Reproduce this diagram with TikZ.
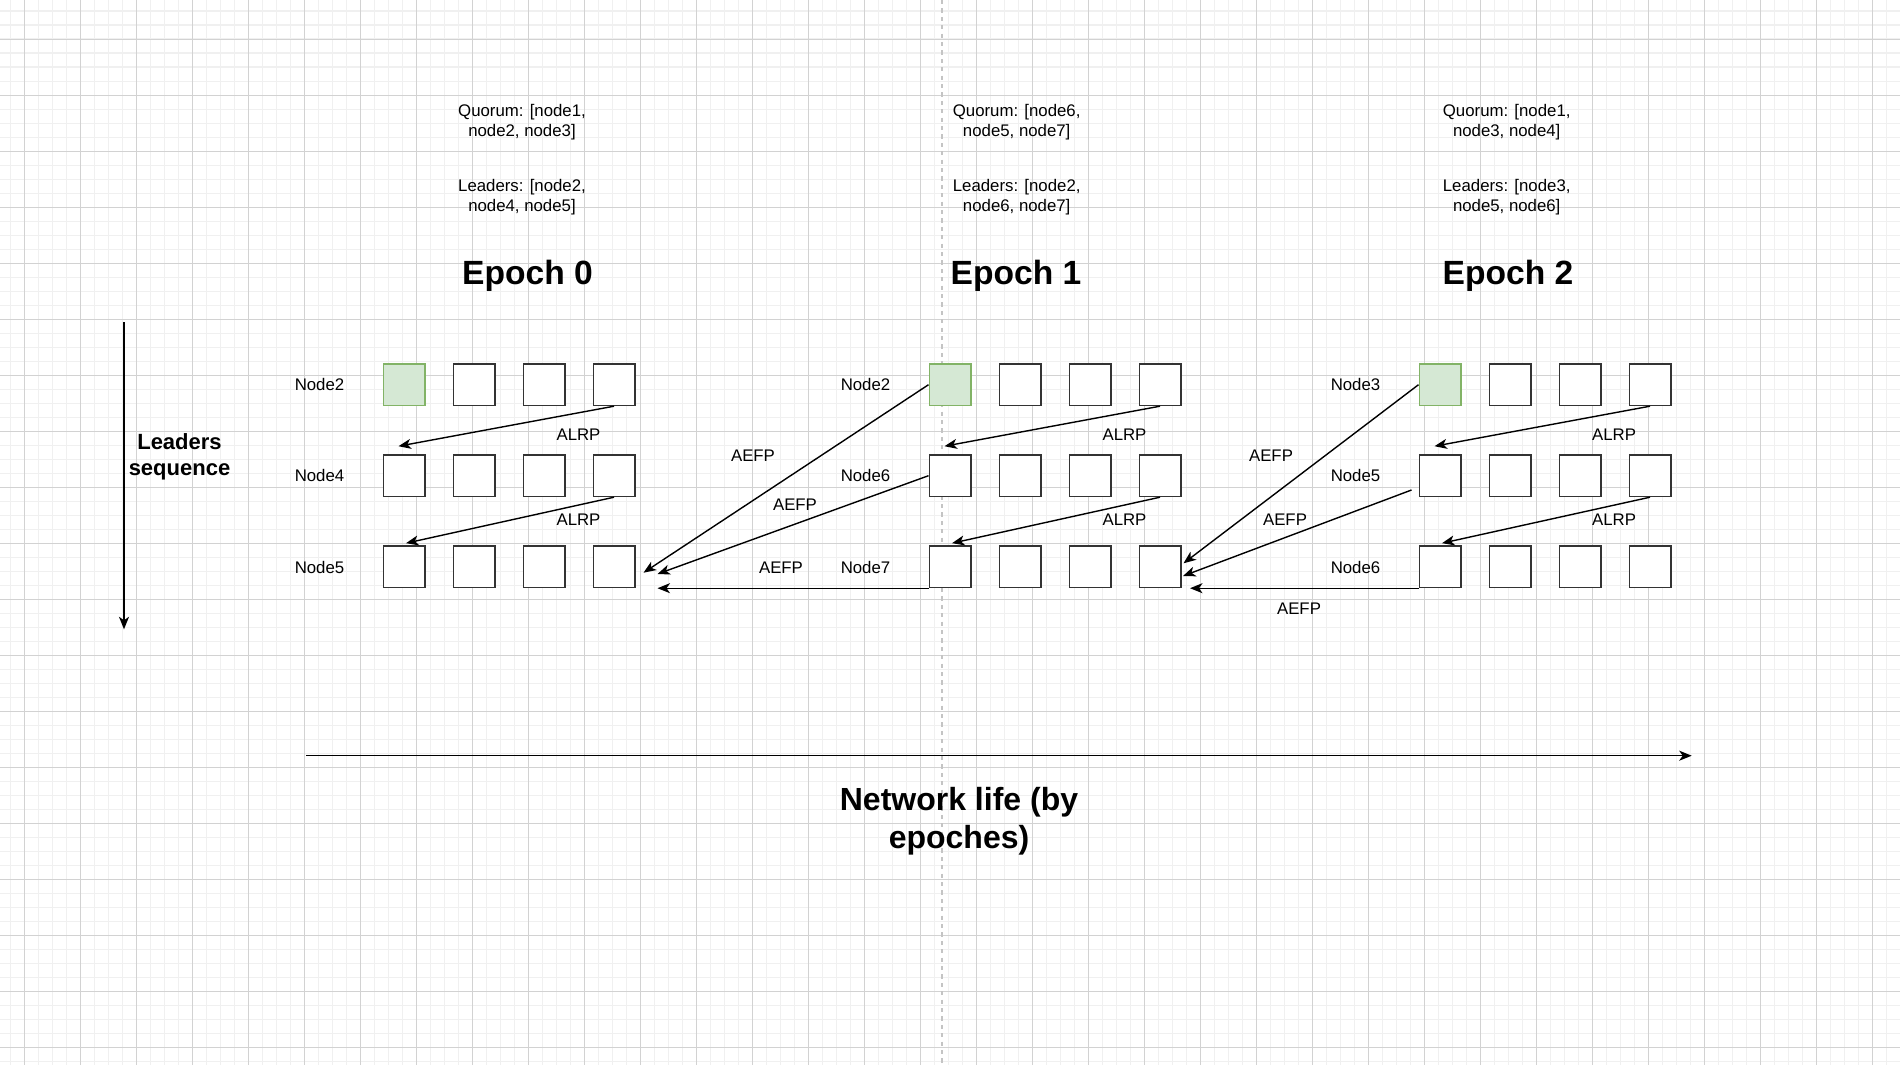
\documentclass[tikz,border=0pt]{standalone}
\usepackage{fontspec}
\setmainfont{Liberation Sans}
\usetikzlibrary{arrows.meta}
\definecolor{gridminor}{HTML}{F0F0F0}
\definecolor{gridmajor}{HTML}{D2D2D2}
\definecolor{boxline}{HTML}{333333}
\definecolor{greenfill}{HTML}{D5E8D4}
\definecolor{greenline}{HTML}{82B366}
\definecolor{dashgray}{HTML}{C4C4C4}
\newcommand{\twolines}[2]{\begin{tabular}[t]{@{}c@{}}#1\\ #2\end{tabular}}
\begin{document}
\begin{tikzpicture}[x=1pt,y=-1pt,
  cell/.style={draw=boxline,line width=1.5pt,fill=white,minimum size=41.5pt,inner sep=0pt},
  leadcell/.style={cell,draw=greenline,fill=greenfill},
  small/.style={font=\fontsize{16.8}{20.2}\selectfont,inner sep=0pt,anchor=base},
  heading/.style={font=\fontsize{33.6}{40}\selectfont\bfseries,inner sep=0pt,anchor=base},
  conn/.style={draw=black,line width=1.4pt,-{Stealth[length=12.5pt,width=10pt,inset=3.5pt]}},
]
\useasboundingbox (0,0) rectangle (1900,1065);
\fill[white] (0,0) rectangle (1900,1065);
% grid
\foreach \gx in {10.3,24.3,...,1900} \draw[gridminor,line width=1.6pt] (\gx,0) -- (\gx,1065);
\foreach \gy in {11.3,25.3,...,1065} \draw[gridminor,line width=1.6pt] (0,\gy) -- (1900,\gy);
\foreach \gx in {24.3,80.3,...,1900} \draw[gridmajor,line width=1pt] (\gx,0) -- (\gx,1065);
\foreach \gy in {39.3,95.3,...,1065} \draw[gridmajor,line width=1pt] (0,\gy) -- (1900,\gy);
% dashed separator
\draw[dashgray,line width=1.4pt,dash pattern=on 4.2pt off 4.2pt] (942,0) -- (942,1065);

% boxes
\foreach \e/\ex in {0/404,1/950,2/1440}{
  \node[leadcell] (b\e11) at (\ex,384.7) {};
  \foreach \c in {2,3,4} \node[cell] (b\e1\c) at ({\ex+70*(\c-1)},384.7) {};
  \foreach \r/\ry in {2/475.7,3/566.7}
    \foreach \c in {1,2,3,4} \node[cell] (b\e\r\c) at ({\ex+70*(\c-1)},\ry) {};
}

% row labels
\node[small] (l01) at (319.5,390.3) {Node2};
\node[small] (l02) at (319.5,481.7) {Node4};
\node[small] (l03) at (319.5,573) {Node5};
\node[small] (l11) at (865.5,390.3) {Node2};
\node[small] (l12) at (865.5,481.7) {Node6};
\node[small] (l13) at (865.5,573) {Node7};
\node[small] (l21) at (1355.5,390.3) {Node3};
\node[small] (l22) at (1355.5,481.7) {Node5};
\node[small] (l23) at (1355.5,573) {Node6};

% quorum / leaders text
\node[small] (q0) at (522,116) {\twolines{Quorum: [node1,}{node2, node3]}};
\node[small] (ld0) at (522,191.7) {\twolines{Leaders: [node2,}{node4, node5]}};
\node[small] (q1) at (1016.7,116) {\twolines{Quorum: [node6,}{node5, node7]}};
\node[small] (ld1) at (1016.7,191.7) {\twolines{Leaders: [node2,}{node6, node7]}};
\node[small] (q2) at (1506.7,116) {\twolines{Quorum: [node1,}{node3, node4]}};
\node[small] (ld2) at (1506.7,191.7) {\twolines{Leaders: [node3,}{node5, node6]}};

% headings
\node[heading] (h0) at (527.5,284) {Epoch 0};
\node[heading] (h1) at (1016,284) {Epoch 1};
\node[heading] (h2) at (1508,284) {Epoch 2};

% ALRP arrows
\foreach \e in {0,1,2}{
  \path[conn] (b\e14.south) -- ([xshift=-5.5pt,yshift=8pt]b\e21.north);
  \path[conn] (b\e24.south) -- ([xshift=2pt,yshift=2pt]b\e31.north);
}
\node[small] (a01) at (578.5,440.7) {ALRP};
\node[small] (a02) at (578.5,525) {ALRP};
\node[small] (a11) at (1124.5,440.7) {ALRP};
\node[small] (a12) at (1124.5,525) {ALRP};
\node[small] (a21) at (1614,440.7) {ALRP};
\node[small] (a22) at (1614,525) {ALRP};

% AEFP arrows epoch 1 -> epoch 0
\path[conn] (b111.west) -- ([xshift=8pt,yshift=-6pt]b034.east);
\path[conn] (b121.west) -- ([xshift=22pt,yshift=-7.3pt]b034.east);
\path[conn] (b131.south west) -- ([xshift=22pt]b034.south east);
% AEFP arrows epoch 2 -> epoch 1
\path[conn] (b211.west) -- ([xshift=2pt,yshift=3.4pt]b134.east);
\path[conn] ([xshift=-7pt,yshift=-14.3pt]b221.west) -- ([xshift=1.5pt,yshift=-9.3pt]b134.east);
\path[conn] (b231.south west) -- ([xshift=8.5pt]b134.south east);

\node[small] (f11) at (753,461.7) {AEFP};
\node[small] (f12) at (795,510) {AEFP};
\node[small] (f13) at (781,573.3) {AEFP};
\node[small] (f21) at (1271,461.7) {AEFP};
\node[small] (f22) at (1285,525) {AEFP};
\node[small] (f23) at (1299,614) {AEFP};

% axes
\coordinate (vs) at (124,322);
\coordinate (ve) at (124,629.3);
\path[conn] (vs) -- (ve);
\node[font=\fontsize{22}{26}\selectfont\bfseries,inner sep=0pt,anchor=base] (lseq) at (179.5,449.3)
  {\twolines{Leaders}{sequence}};
\coordinate (hs) at (306,755.7);
\coordinate (he) at (1691.7,755.7);
\path[conn] (hs) -- (he);
\node[font=\fontsize{32}{38}\selectfont\bfseries,inner sep=0pt,anchor=base] (netl) at (959,810)
  {\twolines{Network life (by}{epoches)}};
\end{tikzpicture}
\end{document}
